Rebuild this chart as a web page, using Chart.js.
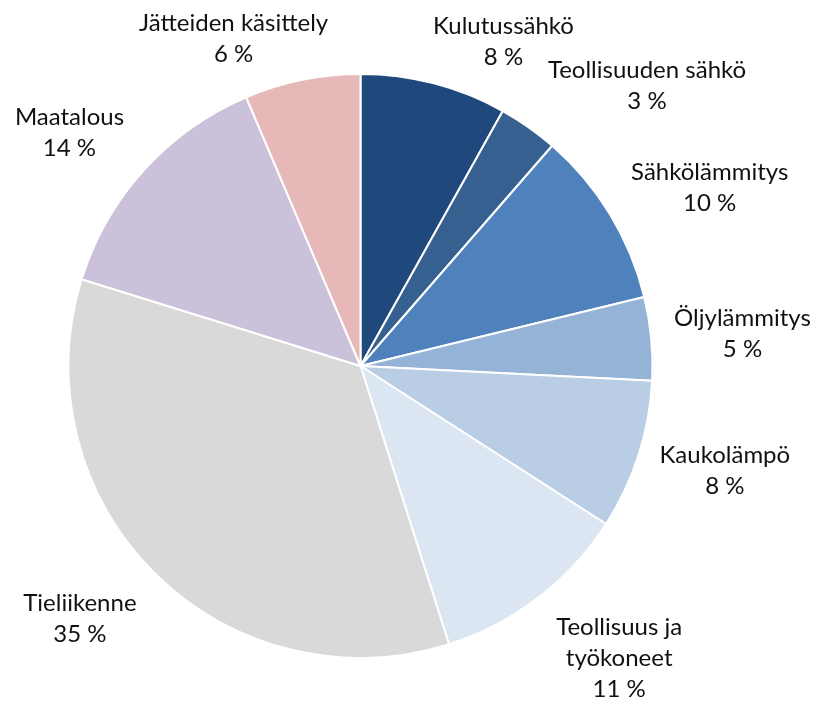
<!DOCTYPE html>
<html>
<head>
<meta charset="utf-8">
<script src="https://cdn.jsdelivr.net/npm/chart.js@4/dist/chart.umd.min.js"></script>
<style>
  html, body { margin: 0; padding: 0; background: #fff; }
  #wrap { width: 817px; height: 703px; }
</style>
</head>
<body>
<div id="wrap"><canvas id="myChart" width="817" height="703"></canvas></div>
<script>
'use strict';

//// Data
const categories = [
    'Kulutussähkö',
    'Teollisuuden sähkö',
    'Sähkölämmitys',
    'Öljylämmitys',
    'Kaukolämpö',
    ['Teollisuus ja', 'työkoneet'],
    'Tieliikenne',
    'Maatalous',
    'Jätteiden käsittely'
];
const shares = [8.1, 3.3, 9.8, 4.6, 8.3, 11.0, 34.7, 13.8, 6.4];
const sliceColors = ['#1F497D', '#36608F', '#4F81BD', '#95B3D7', '#B9CDE5',
    '#DCE6F2', '#D9D9D9', '#CCC1DA', '#E6B9B8'];

//// Label look
const labelFont = '24px Lato';
const lineStep = 31;
const labelGap = 20;
// small shifts so labels don't crowd each other
const labelNudge = [[-6, 8], [8, 0], [4, 0], [3, 0], [2, 0], [6, 8], [-4, 9], [-5, -3], [30, 9]];

// ---> outside labels <--- //
const outsideLabels = {
    id: 'outsideLabels',
    afterDatasetsDraw(chart) {
        const ctx = chart.ctx;
        const meta = chart.getDatasetMeta(0);
        const total = shares.reduce((a, b) => a + b, 0);
        ctx.save();
        ctx.font = labelFont;
        ctx.fillStyle = '#111111';
        ctx.textAlign = 'center';
        ctx.textBaseline = 'middle';
        meta.data.forEach((arc, i) => {
            const name = categories[i];
            const lines = (Array.isArray(name) ? name.slice() : [name]);
            lines.push(Math.round(shares[i] / total * 100) + ' %');
            const w = Math.max(...lines.map(t => ctx.measureText(t).width));
            const h = lines.length * lineStep;
            const mid = (arc.startAngle + arc.endAngle) / 2;
            const r = arc.outerRadius + labelGap;
            const ax = arc.x + r * Math.cos(mid);
            const ay = arc.y + r * Math.sin(mid);
            const cx = ax + Math.sign(Math.cos(mid)) * w / 2 + labelNudge[i][0];
            const cy = ay + Math.sin(mid) * h / 2 + labelNudge[i][1];
            lines.forEach((t, k) => {
                ctx.fillText(t, cx, cy - h / 2 + lineStep * (k + 0.5));
            });
        });
        ctx.restore();
    }
};

var ctx = document.getElementById('myChart').getContext('2d');

var chart = new Chart(ctx, {
    type: 'pie',
    data: {
        labels: categories,
        datasets: [{
            data: shares,
            backgroundColor: sliceColors,
            borderColor: '#ffffff',
            borderWidth: 2
        }]
    },
    options: {
        responsive: false,
        animation: false,
        layout: {
            padding: { left: 67.5, right: 163.5, top: 73, bottom: 44 }
        },
        plugins: {
            legend: { display: false },
            tooltip: { enabled: false }
        }
    },
    plugins: [outsideLabels]
});
</script>
</body>
</html>
